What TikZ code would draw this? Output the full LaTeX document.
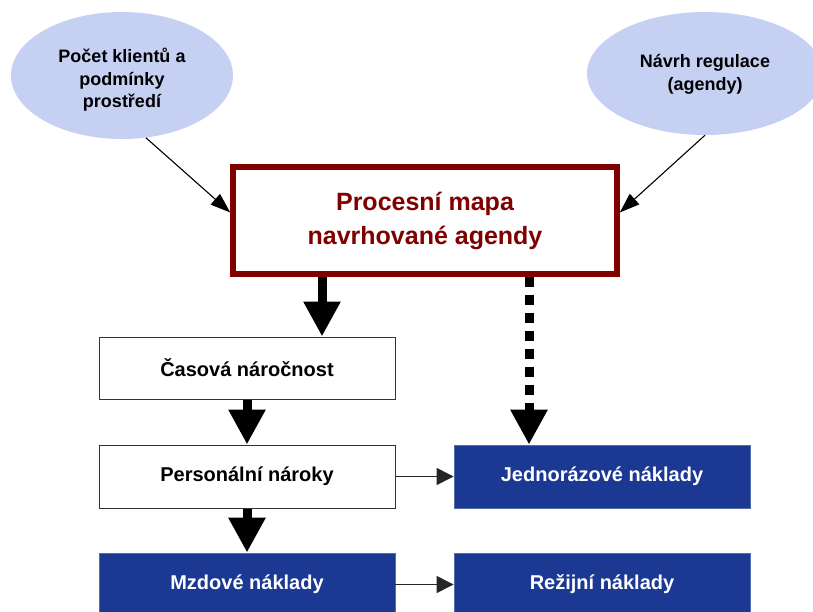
\documentclass[tikz,border=0pt]{standalone}
\usepackage{fontspec}
\setmainfont{Liberation Sans}
\usetikzlibrary{arrows.meta,shapes.geometric,calc}
\definecolor{ellfill}{RGB}{197,208,243}
\definecolor{darkred}{RGB}{128,0,0}
\definecolor{navyblue}{RGB}{27,57,146}
\begin{document}
\begin{tikzpicture}[x=1pt,y=-1pt,
  ell/.style={ellipse, fill=ellfill, inner sep=0pt},
  elltext/.style={align=center, inner sep=0pt,
    font=\fontsize{18}{22.5}\selectfont\bfseries},
  mainbox/.style={draw=darkred, line width=5.5pt, fill=white, minimum width=384pt,
    minimum height=107pt, inner sep=0pt, align=center, text=darkred,
    font=\fontsize{25}{34}\selectfont\bfseries},
  wbox/.style={draw=black!80, line width=1pt, fill=white, minimum width=296pt,
    minimum height=62pt, inner sep=0pt, font=\fontsize{20}{24}\selectfont\bfseries},
  nbox/.style={draw=navyblue!75!white, line width=0.8pt, fill=navyblue, text=white,
    minimum width=296pt, minimum height=63pt, inner sep=0pt,
    font=\fontsize{20}{24}\selectfont\bfseries},
  bigarr/.style={line width=9pt, -{Triangle[length=35pt,width=35pt]}},
  bigdot/.style={bigarr, dash pattern=on 10pt off 8pt},
  smallarr/.style={line width=1pt, draw=black!85, -{Triangle[length=17pt,width=17pt]}},
  diagarr/.style={line width=1.1pt, -{Triangle[length=20pt,width=14pt]}}
]
\clip (0,0) rectangle (813,612);
\fill[white] (0,0) rectangle (813,612);

\node[ell, minimum width=222pt, minimum height=127pt] (e1) at (122,75.5) {};
\node[elltext] (t1) at ([yshift=-4.5pt]e1.center) {Počet klientů a\\podmínky\\prostředí};
\node[ell, minimum width=236pt, minimum height=123pt] (e2) at (705,73.5) {};
\node[elltext] (t2) at ([yshift=-1pt]e2.center) {Návrh regulace\\(agendy)};

\node[mainbox] (main) at (425,220.5) {Procesní mapa\\navrhované agendy};

\node[wbox] (cas) at (247,368) {Časová náročnost};
\node[wbox, minimum height=63pt] (per) at (247,476.5) {Personální nároky};
\node[nbox] (jed) at (602,476.5) {Jednorázové náklady};
\node[nbox] (mzd) at (247,584.5) {Mzdové náklady};
\node[nbox] (rez) at (602,584.5) {Režijní náklady};

\draw[diagarr] (e1.-69) -- ([yshift=8pt]main.west);
\draw[diagarr] (e2.south) -- ([yshift=8pt]main.east);

\draw[bigarr] ([xshift=75pt]cas.north |- main.south) -- ([xshift=75pt]cas.north);
\draw[bigdot] ([xshift=-73pt]jed.north |- main.south) -- ([xshift=-73pt]jed.north);
\draw[bigarr] (cas.south) -- (per.north);
\draw[bigarr] (per.south) -- (mzd.north);

\draw[smallarr] (per.east) -- (jed.west);
\draw[smallarr] (mzd.east) -- (rez.west);
\end{tikzpicture}
\end{document}
